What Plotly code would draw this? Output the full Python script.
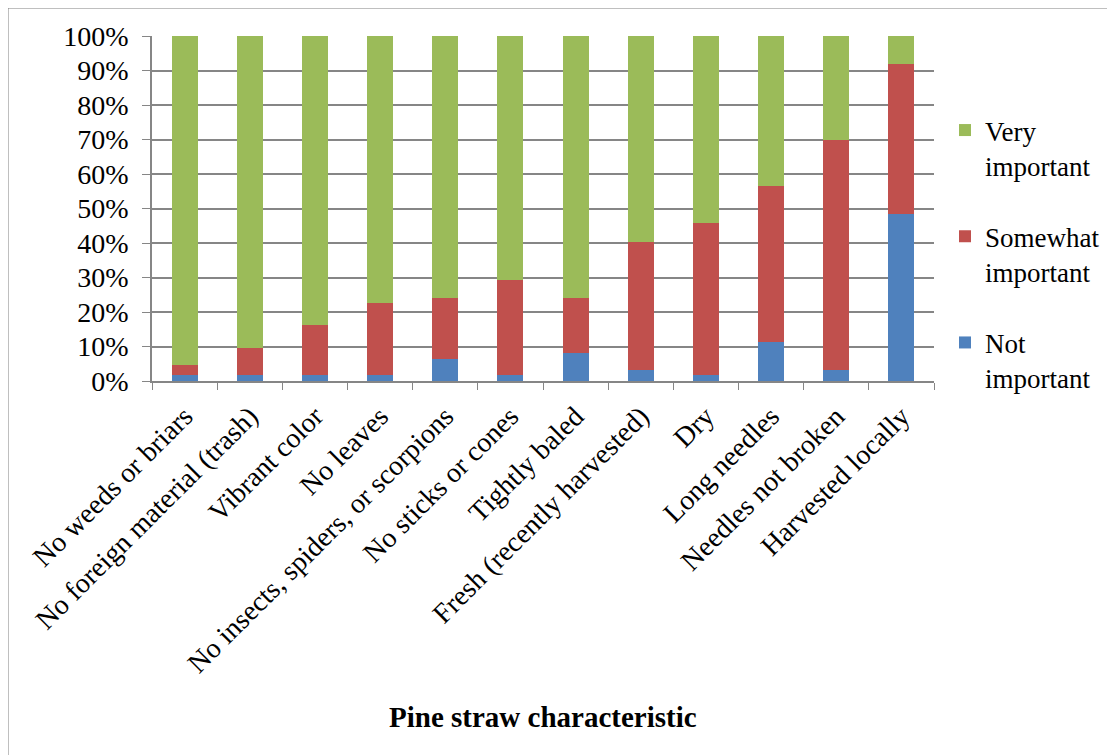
import plotly.graph_objects as go

categories = [
    "No weeds or briars",
    "No foreign material (trash)",
    "Vibrant color",
    "No leaves",
    "No insects, spiders, or scorpions",
    "No sticks or cones",
    "Tightly baled",
    "Fresh (recently harvested)",
    "Dry",
    "Long needles",
    "Needles not broken",
    "Harvested locally",
]
not_important = [1.6, 1.6, 1.6, 1.6, 6.3, 1.6, 8.0, 3.1, 1.6, 11.2, 3.1, 48.4]
somewhat_important = [3.1, 7.9, 14.6, 20.9, 17.8, 27.8, 16.0, 37.1, 44.2, 45.3, 66.9, 43.5]
very_important = [95.3, 90.5, 83.8, 77.5, 75.9, 70.6, 76.0, 59.8, 54.2, 43.5, 30.0, 8.1]
y_ticks = [0, 10, 20, 30, 40, 50, 60, 70, 80, 90, 100]
y_labels = [f"{v}%" for v in y_ticks]

FONT = "Liberation Serif, Times New Roman, serif"

fig = go.Figure()
fig.add_trace(go.Bar(x=categories, y=not_important, name="Not<br>important",
                     marker=dict(color="#4F81BD", line=dict(width=0)),
                     legendgroup="c", legendrank=3))
fig.add_trace(go.Bar(x=categories, y=somewhat_important, name="Somewhat<br>important",
                     marker=dict(color="#C0504D", line=dict(width=0)),
                     legendgroup="b", legendrank=2))
fig.add_trace(go.Bar(x=categories, y=very_important, name="Very<br>important",
                     marker=dict(color="#9BBB59", line=dict(width=0)),
                     legendgroup="a", legendrank=1))

OFF = 8  # page body margin
W, H = 1115 - OFF, 755 - OFF
# plot area in reference screen pixels
SX0, SX1, SY0, SY1 = 152, 934, 36, 381
L, T = SX0 - OFF, SY0 - OFF
pw, ph = SX1 - SX0, SY1 - SY0
R = W - L - pw
B = H - T - ph

def px(x):
    return (x - SX0) / pw

def py(y):
    return (SY1 - y) / ph

fig.update_layout(
    width=W, height=H,
    barmode="stack",
    bargap=0.6,
    plot_bgcolor="white",
    paper_bgcolor="white",
    margin=dict(l=L, r=R, t=T, b=B, pad=0, autoexpand=False),
    font=dict(family=FONT, size=28, color="black"),
    legend=dict(
        x=px(945), y=py(106), xanchor="left", yanchor="top",
        traceorder="grouped",
        tracegroupgap=33,
        valign="top",
        font=dict(family=FONT, size=27, color="black"),
        bgcolor="rgba(0,0,0,0)",
    ),
    xaxis=dict(
        type="category",
        automargin=False,
        tickangle=-45,
        tickson="boundaries",
        ticks="outside",
        ticklen=7,
        tickcolor="#868686",
        ticklabelstandoff=6,
        showline=True, linecolor="#868686", linewidth=1.5,
        showgrid=False,
        tickfont=dict(family=FONT, size=28, color="black"),
    ),
    yaxis=dict(
        automargin=False,
        range=[0, 100],
        tickvals=y_ticks, ticktext=y_labels,
        ticks="outside", ticklen=8, tickcolor="#868686",
        ticklabelstandoff=8,
        showline=True, linecolor="#868686", linewidth=1.5,
        showgrid=True, gridcolor="#868686", gridwidth=1.5,
        zeroline=False,
        tickfont=dict(family=FONT, size=28, color="black"),
    ),
    annotations=[
        dict(text="<b>Pine straw characteristic</b>", xref="paper", yref="paper",
             x=px(543), y=py(717), xanchor="center", yanchor="middle",
             showarrow=False, font=dict(family=FONT, size=29, color="black")),
    ],
    shapes=[
        dict(type="line", xref="paper", yref="paper",
             x0=px(7.5), x1=px(7.5), y0=py(7.5), y1=py(770),
             line=dict(color="#808080", width=2)),
        dict(type="line", xref="paper", yref="paper",
             x0=px(7.5), x1=px(1125), y0=py(7.5), y1=py(7.5),
             line=dict(color="#808080", width=2)),
    ],
)

fig.write_html("out.html")
